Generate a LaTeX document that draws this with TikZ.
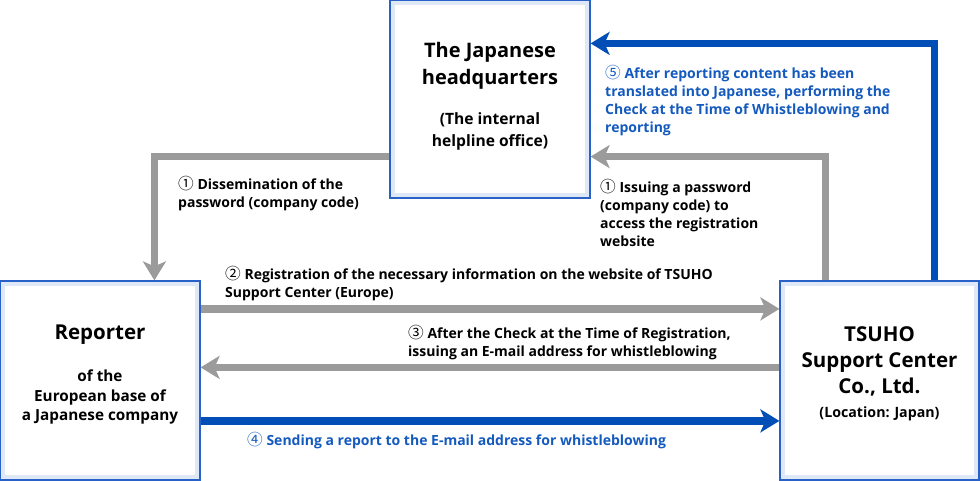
\documentclass[tikz,border=0pt]{standalone}
\usepackage{fontspec}
\setmainfont{Open Sans}
\newfontfamily\circfont{Noto Sans CJK JP}[Scale=1.12]
\usetikzlibrary{arrows.meta}
\definecolor{boxblue}{RGB}{40,98,200}
\definecolor{bandblue}{RGB}{222,232,246}
\definecolor{arrblue}{RGB}{0,78,182}
\definecolor{txtblue}{RGB}{20,90,190}
\definecolor{arrgray}{RGB}{155,155,155}
\newcommand{\cn}[1]{{\circfont\mdseries #1}}
\tikzset{
  x=1pt,y=-1pt,
  bigbox/.style={draw=boxblue,line width=1.2pt,fill=white,inner sep=0pt,
    path picture={\draw[bandblue,line width=10pt] (path picture bounding box.south west) rectangle (path picture bounding box.north east);}},
  grayarrow/.style={draw=arrgray,line width=7.5pt,-{Stealth[length=19pt,width=23pt,inset=5pt]}},
  bluearrow/.style={draw=arrblue,line width=7.5pt,-{Stealth[length=19pt,width=23pt,inset=5pt]}},
  lbl/.style={font=\bfseries\fontsize{14}{18}\selectfont,align=left,inner sep=0pt,anchor=north west},
  bluelbl/.style={lbl,text=txtblue},
  head/.style={font=\bfseries\fontsize{20.5}{26}\selectfont,align=center,inner sep=0pt},
  sub/.style={font=\bfseries\fontsize{15.3}{19.5}\selectfont,align=center,inner sep=0pt}
}
\begin{document}
\begin{tikzpicture}
\useasboundingbox (0,0) rectangle (980,480);
\node[bigbox,minimum width=200pt,minimum height=198pt] (hq) at (490,99) {};
\node[bigbox,minimum width=200pt,minimum height=199pt] (rep) at (100,380.5) {};
\node[bigbox,minimum width=199pt,minimum height=199pt] (ts) at (879.5,380.5) {};

\node[head,font=\bfseries\fontsize{20}{27}\selectfont] (hqt) at (490,66) {The Japanese\\headquarters};
\node[sub,font=\bfseries\fontsize{15.6}{22}\selectfont] (hqs) at (490,131) {(The internal\\helpline office)};
\node[head] (rept) at (100,335) {Reporter};
\node[sub] (reps) at (100,397) {of the\\European base of\\a Japanese company};
\node[head] (tst) at (879.5,361) {TSUHO\\Support Center\\Co., Ltd.};
\node[sub,font=\bfseries\fontsize{14.2}{17}\selectfont] (tss) at (879.5,414) {(Location: Japan)};

\draw[grayarrow] ([yshift=42pt]hq.south west) -| ([xshift=155pt]rep.north west);
\draw[grayarrow] ([xshift=46pt]ts.north west) |- ([yshift=42pt]hq.south east);
\draw[bluearrow] ([xshift=155pt]ts.north west) |- ([yshift=-44pt]hq.north east);
\draw[grayarrow] ([yshift=-28.5pt]rep.north east) -- ([yshift=-28.5pt]ts.north west);
\draw[grayarrow] ([yshift=-87pt]ts.north west) -- ([yshift=-87pt]rep.north east);
\draw[bluearrow] ([yshift=-140.5pt]rep.north east) -- ([yshift=-140.5pt]ts.north west);

\node[lbl] (l1a) at (178,176.5) {\cn{①} Dissemination of the\\password (company code)};
\node[lbl] (l1b) at (600,179.5) {\cn{①} Issuing a password\\(company code) to\\access the registration\\website};
\node[bluelbl] (l5) at (605,65.5) {\cn{⑤} After reporting content has been\\translated into Japanese, performing the\\Check at the Time of Whistleblowing and\\reporting};
\node[lbl] (l2) at (225,266.5) {\cn{②} Registration of the necessary information on the website of TSUHO\\Support Center (Europe)};
\node[lbl] (l3) at (408,325.5) {\cn{③} After the Check at the Time of Registration,\\issuing an E-mail address for whistleblowing};
\node[bluelbl] (l4) at (247,432.5) {\cn{④} Sending a report to the E-mail address for whistleblowing};
\end{tikzpicture}
\end{document}
